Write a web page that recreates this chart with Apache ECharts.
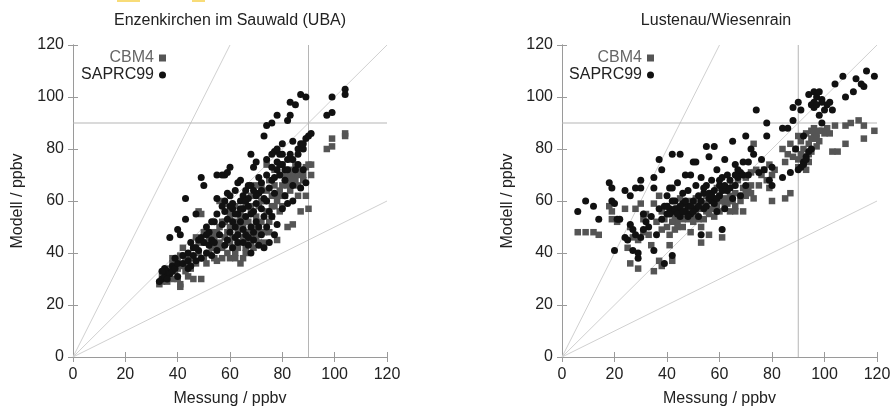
<!DOCTYPE html>
<html><head><meta charset="utf-8">
<script src="https://cdn.jsdelivr.net/npm/echarts@6/dist/echarts.min.js"></script>
<style>html,body{margin:0;padding:0;background:#fff}#c{width:890px;height:408px}</style>
</head><body><div id="c"></div><script>
// ---- data ----
const panelTitles = ['Enzenkirchen im Sauwald (UBA)', 'Lustenau/Wiesenrain'];
const seriesNames = ['CBM4', 'SAPRC99'];
const xAxisName = 'Messung / ppbv';
const yAxisName = 'Modell / ppbv';
const axisMin = 0, axisMax = 120, axisStep = 20;
const refSlopes = [2, 1, 0.5];
const refThreshold = 90;

const enzCBM4 = [[33,28],[34,29],[34,31],[35,30],[36,32],[36,29],[37,31],[37,34],[38,38],[38,30],[39,36],[39,33],[40,38],[40,30],[41,27],[41,28],[41,39],[42,35],[42,42],[43,33],[44,31],[45,38],[45,34],[46,30],[46,42],[47,36],[47,46],[48,40],[48,56],[49,30],[49,55],[50,38],[50,44],[51,36],[52,40],[52,46],[53,42],[54,38],[54,46],[55,37],[55,48],[56,44],[56,60],[57,38],[57,42],[57,52],[58,46],[58,59],[59,40],[59,48],[60,38],[60,44],[60,50],[60,56],[61,42],[61,46],[62,38],[62,52],[62,58],[63,44],[63,48],[64,36],[64,54],[64,56],[65,50],[65,46],[66,42],[66,58],[67,52],[67,48],[68,44],[68,56],[68,62],[69,50],[69,46],[70,54],[70,62],[71,58],[71,48],[72,52],[72,66],[73,60],[73,44],[74,56],[74,64],[74,74],[75,68],[75,48],[76,62],[76,54],[77,58],[77,66],[77,72],[78,45],[78,60],[79,70],[79,64],[80,66],[80,74],[80,58],[81,62],[81,70],[82,68],[82,66],[82,50],[83,72],[83,64],[84,51],[84,70],[85,74],[85,68],[86,70],[86,62],[87,72],[87,56],[88,70],[88,68],[89,62],[89,73],[90,57],[90,74],[91,74],[91,70],[97,80],[99,81],[99,84],[104,85],[104,86],
  [62,40],[63,42],[65,38],[66,40],[67,45],[69,42],[70,46],[71,44],[73,48],[75,52],[76,58],[78,62],[79,56],[80,62],[82,70],[83,76],[84,68],[86,66],[70,66],[72,60],[68,58],[66,52],[64,50],[60,54],[58,52],[56,50],[55,42],[53,48],[51,44],[50,48],[48,44],[44,36],[43,38],[40,34],[38,36]];
const enzSAPRC99 = [[33,29],[34,30],[35,31],[35,34],[36,33],[37,32],[37,46],[38,35],[38,33],[39,34],[40,36],[40,31],[40,49],[41,47],[42,36],[43,53],[43,61],[44,37],[44,40],[45,35],[46,39],[46,42],[47,37],[47,55],[48,41],[48,45],[49,69],[49,38],[50,66],[50,44],[51,40],[51,47],[52,43],[52,48],[53,39],[53,45],[54,52],[54,44],[55,61],[55,70],[55,41],[56,47],[57,70],[57,51],[58,43],[58,60],[58,70],[59,45],[59,53],[59,71],[60,62],[60,48],[60,73],[61,42],[61,57],[61,59],[62,50],[62,64],[62,46],[63,55],[63,67],[63,44],[64,60],[64,52],[64,68],[65,49],[65,57],[65,62],[66,54],[66,47],[66,64],[67,61],[67,43],[67,58],[68,66],[68,50],[68,78],[68,40],[69,56],[69,73],[69,45],[70,59],[70,75],[70,52],[71,63],[71,43],[72,57],[72,67],[72,47],[73,61],[73,85],[73,42],[74,89],[74,70],[74,50],[75,65],[75,44],[76,90],[76,73],[76,54],[77,79],[77,63],[77,47],[78,93],[78,75],[78,51],[79,70],[79,78],[80,74],[80,57],[81,72],[81,62],[82,91],[82,76],[82,59],[83,98],[83,78],[83,93],[84,83],[84,66],[84,60],[85,97],[85,72],[86,80],[86,74],[87,101],[87,65],[87,82],[88,80],[88,72],[89,100],[89,67],[89,84],[90,85],[91,86],[97,93],[99,94],[99,100],[104,101],[104,103],
  [58,56],[60,58],[62,55],[64,57],[66,60],[68,55],[70,62],[72,64],[74,60],[76,68],[78,72],[80,78],[82,72],[84,76],[86,78],[88,82],[79,74],[81,68],[75,56],[73,54],[71,50],[69,48],[67,46],[65,44],[63,47],[61,52],[59,63],[57,58],[55,55],[53,52],[51,50],[49,46],[47,42],[45,44],[44,34],[42,39],[39,38],[36,30],[34,33],[67,66],[69,64],[71,69],[74,76],[76,78],[78,80],[80,82],[77,69]];
const lusCBM4 = [[6,48],[9,48],[12,48],[14,47],[18,58],[19,56],[19,53],[21,52],[24,57],[25,42],[26,36],[26,50],[27,46],[28,57],[29,34],[29,45],[30,59],[31,53],[31,48],[32,55],[33,47],[34,43],[35,33],[35,59],[36,52],[37,37],[37,62],[38,35],[38,49],[38,56],[39,53],[40,50],[40,58],[41,43],[41,47],[42,37],[42,55],[43,49],[43,60],[44,52],[44,57],[45,61],[45,54],[46,50],[46,58],[47,55],[48,53],[48,60],[49,48],[49,56],[50,52],[50,58],[51,55],[51,61],[52,53],[52,57],[53,44],[53,50],[54,59],[55,62],[55,56],[56,47],[56,60],[57,57],[57,63],[58,54],[58,61],[59,58],[59,65],[60,62],[60,56],[61,46],[61,60],[62,58],[62,64],[63,59],[64,62],[64,56],[65,66],[65,60],[66,63],[66,56],[67,68],[68,62],[69,65],[69,56],[70,69],[70,62],[71,64],[72,71],[72,66],[73,61],[73,82],[74,72],[75,66],[76,70],[77,72],[78,68],[79,74],[79,65],[80,60],[80,70],[81,72],[84,80],[85,75],[85,61],[86,78],[87,82],[87,63],[88,77],[89,80],[90,85],[90,76],[91,73],[91,83],[92,80],[92,74],[93,86],[93,77],[94,82],[94,75],[95,87],[95,79],[96,84],[96,88],[97,86],[97,81],[98,83],[99,87],[100,86],[101,88],[102,86],[103,79],[104,89],[105,79],[108,82],[108,89],[110,90],[113,91],[115,89],[115,84],[119,87],
  [42,52],[43,54],[44,50],[45,56],[46,53],[47,58],[48,55],[50,54],[52,59],[54,53],[56,55],[58,58],[60,60],[62,61],[64,60],[66,58],[68,60],[70,64],[72,63],[92,77],[93,72],[94,78],[95,84],[96,86],[97,84],[98,87],[91,78],[90,73]];
const lusSAPRC99 = [[6,56],[9,60],[12,58],[14,53],[18,67],[19,65],[19,60],[20,41],[20,59],[21,53],[22,53],[24,46],[24,64],[25,45],[26,62],[26,51],[27,49],[27,41],[28,65],[28,47],[29,38],[29,40],[30,65],[30,68],[30,46],[31,55],[31,49],[32,52],[33,50],[34,54],[35,41],[35,69],[35,65],[36,47],[37,57],[37,76],[38,53],[38,72],[39,36],[39,58],[40,55],[40,62],[41,57],[41,65],[42,39],[42,65],[42,78],[43,56],[43,60],[44,57],[44,67],[45,54],[45,78],[46,59],[46,63],[47,56],[47,70],[48,58],[48,64],[49,55],[49,70],[50,60],[50,75],[51,57],[51,66],[51,75],[52,62],[52,54],[53,47],[53,69],[54,63],[54,57],[55,81],[55,66],[56,61],[56,77],[57,60],[57,68],[58,81],[58,64],[59,56],[59,72],[60,62],[60,66],[61,49],[61,69],[62,57],[62,76],[63,64],[64,68],[65,61],[65,83],[66,66],[66,74],[67,69],[68,71],[68,62],[69,75],[70,66],[70,85],[71,70],[72,80],[73,78],[74,95],[75,71],[76,76],[77,72],[78,90],[78,85],[79,68],[80,73],[80,66],[84,88],[84,69],[86,88],[87,71],[88,91],[88,96],[89,80],[90,98],[91,95],[92,85],[92,75],[93,77],[94,101],[95,97],[96,102],[96,96],[97,100],[98,102],[98,93],[99,99],[99,90],[100,95],[101,97],[102,98],[103,95],[104,105],[107,108],[108,100],[111,102],[112,107],[114,105],[116,110],[115,104],[119,108],
  [40,58],[41,55],[42,60],[43,57],[44,55],[45,58],[46,56],[47,60],[48,54],[49,58],[50,56],[52,58],[53,60],[54,65],[55,58],[56,63],[57,62],[58,59],[59,61],[60,68],[61,64],[62,66],[63,70],[64,65],[66,70],[67,72],[69,70],[71,75],[92,74],[93,76],[94,79],[95,80],[91,73],[90,72],[96,98],[97,97],[99,98]];

const panelData = [[enzCBM4, enzSAPRC99], [lusCBM4, lusSAPRC99]];

// ---- styling / layout ----
const FONT = '"Liberation Sans", Arial, Helvetica, sans-serif';
const TXT = '#222';
const AX = '#9a9a9a';
const grids = [
  {left: 73, top: 45, width: 314, height: 312, containLabel: false, outerBoundsMode: 'none'},
  {left: 562, top: 45, width: 315, height: 312, containLabel: false, outerBoundsMode: 'none'}
];
const titleCenters = [[230, 21], [716, 21]];
const legendRights = [724, 236];
const yNameGap = [47, 46];

const chart = echarts.init(document.getElementById('c'), null, {renderer: 'canvas'});

const xAxes = [], yAxes = [], series = [], legends = [], graphics = [];
grids.forEach((g, i) => {
  const base = {
    gridIndex: i, type: 'value', min: axisMin, max: axisMax, interval: axisStep,
    axisLine: {show: true, lineStyle: {color: AX, width: 1}},
    axisTick: {show: true, inside: true, length: 5, lineStyle: {color: AX}},
    splitLine: {show: false}
  };
  xAxes.push(Object.assign({}, base, {position: 'bottom', name: xAxisName, nameLocation: 'middle', nameGap: 34,
    axisLabel: {fontSize: 16, color: TXT, fontFamily: FONT, margin: 10},
    nameTextStyle: {fontSize: 16, color: TXT, fontFamily: FONT}}));
  xAxes.push(Object.assign({}, base, {position: 'top', axisLabel: {show: false}}));
  yAxes.push(Object.assign({}, base, {position: 'left', name: yAxisName, nameLocation: 'middle', nameGap: yNameGap[i],
    axisLabel: {fontSize: 16, color: TXT, fontFamily: FONT, margin: 9},
    nameTextStyle: {fontSize: 16, color: TXT, fontFamily: FONT}}));
  yAxes.push(Object.assign({}, base, {position: 'right', axisLabel: {show: false}}));

  // reference lines (1:2, 1:1, 2:1) and threshold lines, drawn below the points
  const refLines = refSlopes.map(s => ({
    pts: [[0, 0], [Math.min(axisMax, axisMax / s), Math.min(axisMax, axisMax * s)]], color: '#d0d0d0'
  }));
  refLines.push({pts: [[axisMin, refThreshold], [axisMax, refThreshold]], color: '#b5b5b5'});
  refLines.push({pts: [[refThreshold, axisMin], [refThreshold, axisMax]], color: '#b5b5b5'});
  refLines.forEach(r => series.push({
    type: 'line', xAxisIndex: 2 * i, yAxisIndex: 2 * i, data: r.pts, z: 1, silent: true,
    symbol: 'none', lineStyle: {color: r.color, width: 1}, emphasis: {disabled: true}
  }));
  series.push({
    name: seriesNames[0], type: 'scatter', xAxisIndex: 2 * i, yAxisIndex: 2 * i,
    symbol: 'rect', symbolSize: 6.5, itemStyle: {color: '#555', opacity: 1}, z: 2,
    data: panelData[i][0]
  });
  series.push({
    name: seriesNames[1], type: 'scatter', xAxisIndex: 2 * i, yAxisIndex: 2 * i,
    symbol: 'circle', symbolSize: 7, itemStyle: {color: '#111', opacity: 1}, z: 3,
    data: panelData[i][1]
  });
  legends.push({
    orient: 'vertical', align: 'right', right: legendRights[i], top: 50, padding: 0,
    itemWidth: 7, itemHeight: 7, itemGap: 1, selectedMode: false,
    textStyle: {fontSize: 16, fontFamily: FONT},
    data: [
      {name: seriesNames[0], icon: 'rect', textStyle: {color: '#666'}},
      {name: seriesNames[1], icon: 'circle', textStyle: {color: TXT}}
    ]
  });
  graphics.push({
    type: 'text', x: titleCenters[i][0], y: titleCenters[i][1],
    style: {text: panelTitles[i], align: 'center', verticalAlign: 'middle', font: '16px ' + FONT, fill: TXT}
  });
});

// small yellow artefacts at the top edge of the source image
graphics.push({type: 'rect', shape: {x: 117, y: 0, width: 23, height: 2}, style: {fill: '#f8dc78'}});
graphics.push({type: 'rect', shape: {x: 192, y: 0, width: 13, height: 2}, style: {fill: '#f8dc78'}});

chart.setOption({
  animation: false,
  backgroundColor: '#fff',
  grid: grids,
  xAxis: xAxes,
  yAxis: yAxes,
  legend: legends,
  series: series,
  graphic: graphics
});
</script></body></html>
